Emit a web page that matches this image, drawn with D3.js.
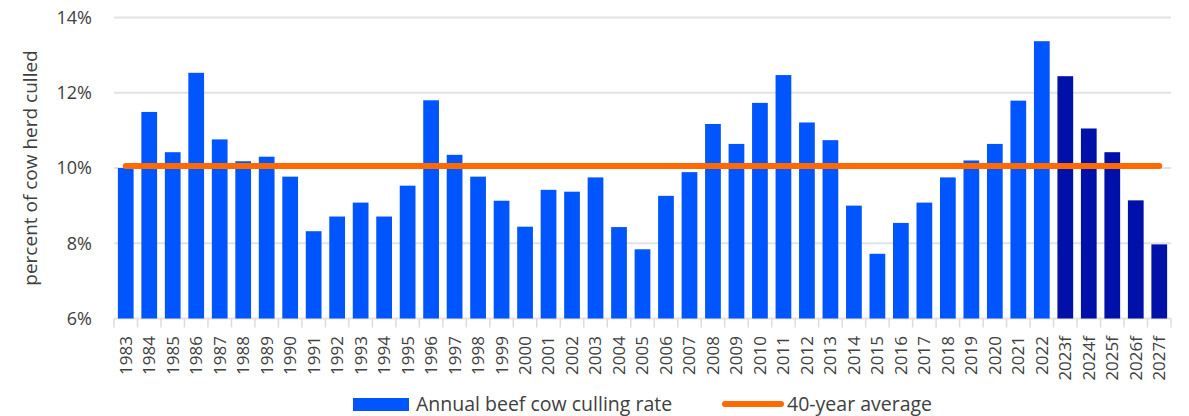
<!DOCTYPE html>
<html>
<head>
<meta charset="utf-8">
<script src="https://cdn.jsdelivr.net/npm/d3@7"></script>
<style>
  body { margin: 0; background: #fff; }
  text { font-family: "Open Sans", sans-serif; fill: #404040; }
</style>
</head>
<body>
<script>
// data
const years = ["1983","1984","1985","1986","1987","1988","1989","1990","1991","1992",
  "1993","1994","1995","1996","1997","1998","1999","2000","2001","2002",
  "2003","2004","2005","2006","2007","2008","2009","2010","2011","2012",
  "2013","2014","2015","2016","2017","2018","2019","2020","2021","2022",
  "2023f","2024f","2025f","2026f","2027f"];
const cullRate = [10.0, 11.49, 10.42, 12.53, 10.76, 10.18, 10.30, 9.77, 8.32, 8.71,
  9.08, 8.71, 9.53, 11.80, 10.35, 9.77, 9.13, 8.44, 9.42, 9.37,
  9.75, 8.43, 7.84, 9.26, 9.89, 11.17, 10.64, 11.73, 12.47, 11.21,
  10.74, 9.00, 7.72, 8.54, 9.08, 9.75, 10.20, 10.64, 11.79, 13.37,
  12.44, 11.05, 10.42, 9.14, 7.97];
const forecast = years.map(y => y.endsWith("f"));
const avg40 = 10.05;
const yTicks = [6, 8, 10, 12, 14];

const width = 1189;
const height = 416;
const margin = { left: 114, right: 18, top: 17.5, bottom: 97.5 };

const svg = d3.select('body')
  .append('svg')
  .attr('width', width)
  .attr('height', height);

const x = d3.scaleBand()
  .domain(years)
  .range([margin.left, width - margin.right])
  .paddingInner(0.33)
  .paddingOuter(0.165);

const y = d3.scaleLinear()
  .domain([6, 14])
  .range([height - margin.bottom, margin.top]);

// gridlines
svg.append('g')
  .selectAll('line')
  .data(yTicks)
  .enter().append('line')
  .attr('x1', margin.left)
  .attr('x2', width - margin.right)
  .attr('y1', d => y(d))
  .attr('y2', d => y(d))
  .attr('stroke', '#e3e3e3')
  .attr('stroke-width', 2);

// y labels
svg.append('g')
  .selectAll('text')
  .data(yTicks)
  .enter().append('text')
  .attr('x', 92)
  .attr('y', d => y(d))
  .attr('dy', '0.35em')
  .attr('text-anchor', 'end')
  .style('font-size', '18px')
  .text(d => d + '%');

svg.append('text')
  .attr('transform', `translate(37,${(y(6) + y(14)) / 2}) rotate(-90)`)
  .attr('text-anchor', 'middle')
  .style('font-size', '19px')
  .text('percent of cow herd culled');

// category ticks at band edges
const step = x.step();
const edges = years.map(d => x(d) - step * x.paddingInner() / 2).concat([width - margin.right]);
svg.append('g')
  .selectAll('line')
  .data(edges)
  .enter().append('line')
  .attr('x1', d => d)
  .attr('x2', d => d)
  .attr('y1', y(6))
  .attr('y2', y(6) + 9)
  .attr('stroke', '#dcdcdc')
  .attr('stroke-width', 1.5);

// bars
svg.append('g')
  .selectAll('rect')
  .data(years)
  .enter().append('rect')
  .attr('x', d => x(d))
  .attr('width', x.bandwidth())
  .attr('y', (d, i) => y(cullRate[i]))
  .attr('height', (d, i) => y(6) - y(cullRate[i]))
  .attr('fill', (d, i) => forecast[i] ? '#0011aa' : '#0055ff');

// average line
svg.append('line')
  .attr('x1', x(years[0]) + x.bandwidth() / 2)
  .attr('x2', x(years[years.length - 1]) + x.bandwidth() / 2)
  .attr('y1', y(avg40))
  .attr('y2', y(avg40))
  .attr('stroke', '#ff6a00')
  .attr('stroke-width', 6)
  .attr('stroke-linecap', 'round');

// x labels
svg.append('g')
  .selectAll('text')
  .data(years)
  .enter().append('text')
  .attr('transform', d => `translate(${x(d) + x.bandwidth() / 2},336) rotate(-90)`)
  .attr('dy', '0.35em')
  .attr('text-anchor', 'end')
  .style('font-size', '17px')
  .text(d => d);

// legend
svg.append('rect')
  .attr('x', 353).attr('y', 398)
  .attr('width', 56).attr('height', 13)
  .attr('fill', '#0055ff');
svg.append('text')
  .attr('x', 416).attr('y', 411)
  .style('font-size', '19.5px')
  .text('Annual beef cow culling rate');
svg.append('line')
  .attr('x1', 725).attr('x2', 781)
  .attr('y1', 404).attr('y2', 404)
  .attr('stroke', '#ff6a00')
  .attr('stroke-width', 6)
  .attr('stroke-linecap', 'round');
svg.append('text')
  .attr('x', 787).attr('y', 411)
  .style('font-size', '19.5px')
  .text('40-year average');
</script>
</body>
</html>
